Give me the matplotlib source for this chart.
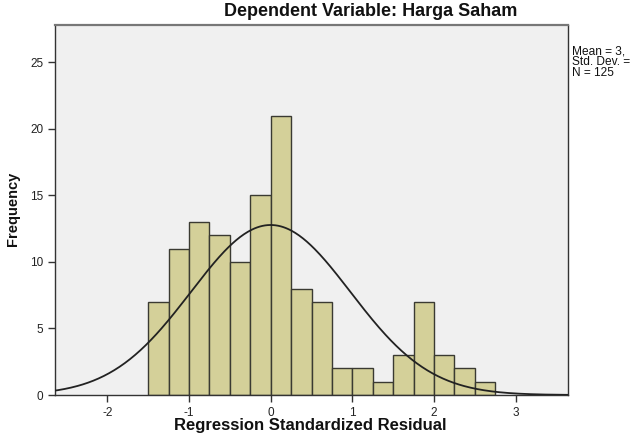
import numpy as np
import matplotlib
matplotlib.use("Agg")
import matplotlib.pyplot as plt

plt.rcParams['font.family'] = ['Liberation Sans', 'DejaVu Sans']
plt.rcParams['axes.unicode_minus'] = False

# histogram bins (regression standardized residual) and counts
bin_edges = np.arange(-1.5, 2.76, 0.25)
counts = [7, 11, 13, 12, 10, 15, 21, 8, 7, 2, 2, 1, 3, 7, 3, 2, 1]
n_obs = 125
mean_res = 0.0
sd_res = 0.976
# the reference crops these at the right edge
stats_lines = ["Mean = 3,", "Std. Dev. =", "N = 125"]

x_ticks = [-2, -1, 0, 1, 2, 3]
y_ticks = [0, 5, 10, 15, 20, 25]

fig = plt.figure(figsize=(6.33, 4.34), dpi=100)
W, H = 633, 434
ax = fig.add_axes([55 / W, 1 - 395 / H, (568 - 55) / W, (395 - 25) / H])
ax.set_facecolor('#F0F0F0')

ax.bar(bin_edges[:-1], counts, width=0.25, align='edge',
       color='#D4D099', edgecolor='#3a3a32', linewidth=1.0, zorder=2)

xs = np.linspace(-2.7, 3.7, 400)
curve = n_obs * 0.25 / (sd_res * np.sqrt(2 * np.pi)) * np.exp(-0.5 * ((xs - mean_res) / sd_res) ** 2)
ax.plot(xs, curve, color='#222222', linewidth=1.3, zorder=3)

ax.set_xlim(-2.64, 3.64)
ax.set_ylim(0, 27.8)
ax.set_xticks(x_ticks)
ax.set_yticks(y_ticks)
ax.tick_params(axis='both', direction='out', length=5, width=1, color='#333333',
               labelsize=8.5, labelcolor='#222222')
for s in ax.spines.values():
    s.set_color('#333333')
    s.set_linewidth(1.0)
ax.spines['top'].set_color('#777777')
ax.spines['top'].set_linewidth(1.6)

fig.text(371 / W, 1 - 12 / H, "Dependent Variable: Harga Saham", ha='center', va='center',
         fontsize=13, fontweight='bold', color='#111111')
fig.text(310 / W, 1 - 430 / H, "Regression Standardized Residual", ha='center', va='baseline',
         fontsize=12, fontweight='bold', color='#111111')
fig.text(13 / W, 1 - 209 / H, "Frequency", ha='center', va='center', rotation=90,
         fontsize=10.5, fontweight='bold', color='#111111')

for i, line in enumerate(stats_lines):
    fig.text(572 / W, 1 - (51 + i * 11) / H, line, ha='left', va='center',
             fontsize=8.6, color='#111111')

fig.savefig("out.png", dpi=100)
